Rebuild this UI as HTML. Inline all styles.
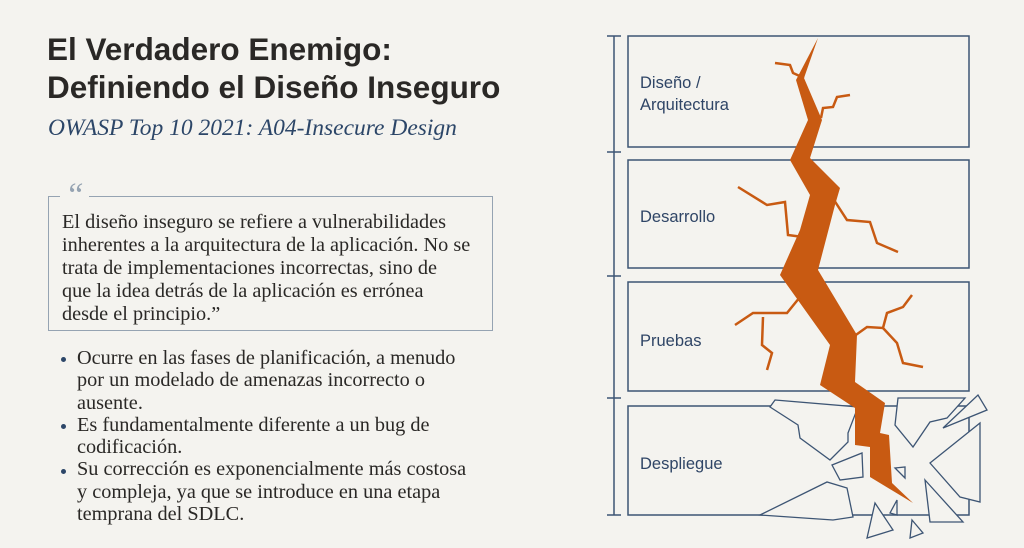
<!DOCTYPE html>
<html><head><meta charset="utf-8"><style>
body{margin:0;width:1024px;height:548px;background:#f4f3ef;position:relative;overflow:hidden;font-family:"Liberation Sans",sans-serif}
.t{position:absolute;left:47px;top:30px;font-weight:bold;font-size:31.5px;line-height:38px;color:#2a2826}
.s{position:absolute;left:48px;top:115px;font-family:"Liberation Serif",serif;font-style:italic;font-size:23.5px;color:#2c4668}
.q{position:absolute;left:48px;top:196px;width:445px;height:135px;border:1.5px solid #95a3b2;box-sizing:border-box}
.qm{position:absolute;left:60px;top:176px;background:#f4f3ef;padding:0 5px;color:#95a3b2;font-family:"Liberation Serif",serif;font-size:34px;line-height:40px;font-style:italic}
.qt{position:absolute;left:62px;top:211px;font-family:"Liberation Serif",serif;font-size:20.3px;line-height:23px;color:#2a2826;white-space:nowrap}
.b{position:absolute;left:77px;top:347px;font-family:"Liberation Serif",serif;font-size:20.3px;line-height:22.3px;color:#2a2826;white-space:nowrap}
.d{position:absolute;left:61px;width:5px;height:5px;border-radius:50%;background:#2c4668}
</style></head><body>
<div class="t">El Verdadero Enemigo:<br>Definiendo el Diseño Inseguro</div>
<div class="s">OWASP Top 10 2021: A04-Insecure Design</div>
<div class="q"></div>
<div class="qm">“</div>
<div class="qt">El diseño inseguro se refiere a vulnerabilidades<br>inherentes a la arquitectura de la aplicación. No se<br>trata de implementaciones incorrectas, sino de<br>que la idea detrás de la aplicación es errónea<br>desde el principio.”</div>
<div class="d" style="top:357px"></div>
<div class="d" style="top:424px"></div>
<div class="d" style="top:469px"></div>
<div class="b">Ocurre en las fases de planificación, a menudo<br>por un modelado de amenazas incorrecto o<br>ausente.<br>Es fundamentalmente diferente a un bug de<br>codificación.<br>Su corrección es exponencialmente más costosa<br>y compleja, ya que se introduce en una etapa<br>temprana del SDLC.</div>
<svg width="1024" height="548" style="position:absolute;left:0;top:0" font-family="Liberation Sans, sans-serif">
<g stroke="#3d5574" stroke-width="1.5" fill="none">
<line x1="614" y1="36" x2="614" y2="515"/>
<line x1="607" y1="36" x2="621" y2="36"/><line x1="607" y1="152" x2="621" y2="152"/>
<line x1="607" y1="276" x2="621" y2="276"/><line x1="607" y1="398" x2="621" y2="398"/><line x1="607" y1="515" x2="621" y2="515"/>
<rect x="628" y="36" width="341" height="111"/>
<rect x="628" y="160" width="341" height="108"/>
<rect x="628" y="282" width="341" height="109"/>
<rect x="628" y="406" width="341" height="109"/>
</g>
<g fill="#2f4566" font-size="16.5">
<text x="640" y="88">Diseño /</text><text x="640" y="110">Arquitectura</text>
<text x="640" y="222">Desarrollo</text>
<text x="640" y="346">Pruebas</text>
<text x="640" y="469">Despliegue</text>
</g>
<g fill="#f4f3ef" stroke="#3d5574" stroke-width="1.3">
<polygon points="775,400 858,407 848,433 848,442 830,460 800,438 798,425 770,407"/>
<polygon points="760,515 827,482 847,488 853,517 833,520"/>
<polygon points="832,465 862,453 863,477 840,480"/>
<polygon points="898,398 965,398 947,418 930,422 913,447 895,425"/>
<polygon points="943,428 978,395 987,410"/>
<polygon points="930,463 980,423 980,502 960,497"/>
<polygon points="925,480 963,522 930,522"/>
<polygon points="895,468 905,467 905,478"/>
<polygon points="875,503 893,530 867,538"/>
<polygon points="890,513 897,500 897,515"/>
<polygon points="912,520 923,533 910,538"/>
</g>
<polygon fill="#c85a12" points="818,38 804,78 822,120 810,158 840,188 835,205 818,270 857,335 855,382 885,403 880,433 889,435 892,483 913,503 870,477 870,447 855,445 855,408 820,385 830,345 800,303 780,275 800,230 810,195 790,160 808,120 796,80"/>
<g fill="none" stroke="#c85a12" stroke-width="2.5" stroke-linejoin="miter">
<polyline points="804,78 793,73 790,65 775,63"/>
<polyline points="821,118 823,108 833,107 837,97 850,95"/>
<polyline points="803,237 788,235 785,202 767,205 738,187"/>
<polyline points="834,200 847,220 870,222 877,243 898,252"/>
<polyline points="800,297 787,313 753,313 735,325"/>
<polyline points="763,317 762,345 772,353 767,370"/>
<polyline points="853,337 867,327 883,328 887,313 903,307 912,295"/>
<polyline points="883,328 897,343 903,363 923,367"/>
</g>
</svg>
</body></html>
